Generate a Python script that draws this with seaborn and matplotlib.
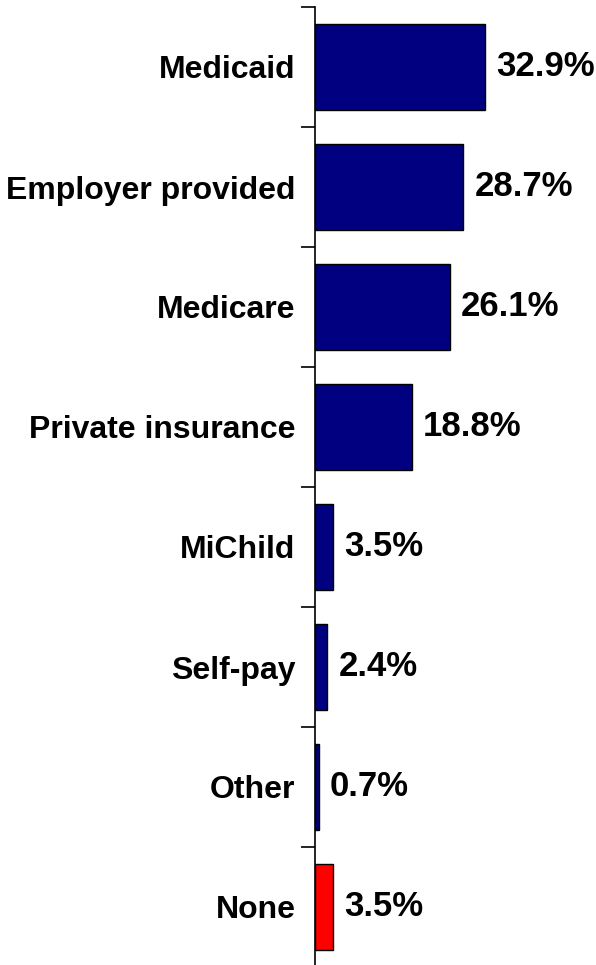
import numpy as np
import pandas as pd
import seaborn as sns
import matplotlib.pyplot as plt
from matplotlib.ticker import FixedLocator

categories = ["Medicaid", "Employer provided", "Medicare", "Private insurance",
              "MiChild", "Self-pay", "Other", "None"]
values = [32.9, 28.7, 26.1, 18.8, 3.5, 2.4, 0.7, 3.5]
bar_colors = ["#000080"] * 7 + ["#FF0000"]

df = pd.DataFrame({"source": categories, "pct": values})

sns.set_style("white")
plt.rcParams['font.family'] = ['Liberation Sans', 'DejaVu Sans']
plt.rcParams['text.color'] = 'black'
plt.rcParams['ytick.color'] = 'black'
plt.rcParams['ytick.labelcolor'] = 'black'

fig = plt.figure(figsize=(5.96, 9.65), dpi=100)
ax = fig.add_axes([315 / 596, -2 / 965, 281 / 596, 960 / 965])

sns.barplot(data=df, x="pct", y="source", hue="source", palette=bar_colors,
            orient="h", width=0.72, edgecolor="black", linewidth=1,
            legend=False, ax=ax, saturation=1)

ax.set_xlim(0, 54.4)
ax.set_ylim(len(categories) - 0.5, -0.5)

for i, v in enumerate(values):
    ax.annotate(f"{v}%", xy=(v, i), xytext=(8, 0), textcoords="offset points",
                va="center", ha="left", fontsize=25, fontweight="bold",
                color="black")

ax.set_xlabel("")
ax.set_ylabel("")
ax.set_xticks([])
ax.set_yticks(range(len(categories)))
ax.set_yticklabels(categories, fontsize=23, fontweight="bold", color="black")
ax.yaxis.set_minor_locator(FixedLocator(np.arange(-0.5, len(categories), 1)))
ax.tick_params(axis="y", which="major", length=0, pad=14)
ax.tick_params(axis="y", which="minor", length=10, width=1.2, color="black",
               direction="out", left=True)

for s in ["top", "right", "bottom"]:
    ax.spines[s].set_visible(False)
ax.spines["left"].set_color("black")
ax.spines["left"].set_linewidth(1.2)

fig.savefig("out.png", dpi=100)
